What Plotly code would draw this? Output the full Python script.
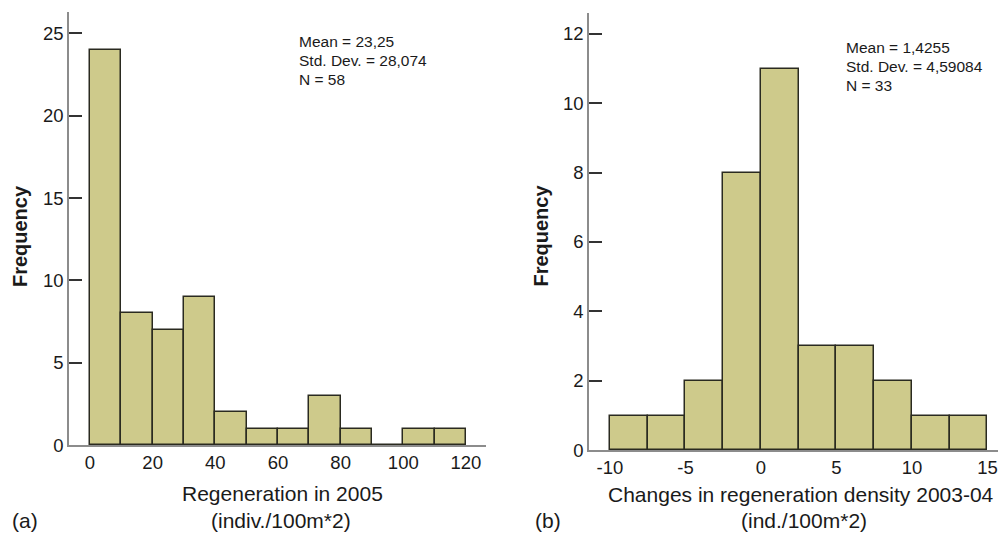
import plotly.graph_objects as go

W, H = 998, 534

# ---- data (a) ----
a_bin_left = [0, 10, 20, 30, 40, 50, 60, 70, 80, 90, 100, 110]
a_counts = [24, 8, 7, 9, 2, 1, 1, 3, 1, 0, 1, 1]
a_bin_width = 10
a_xticks = [0, 20, 40, 60, 80, 100, 120]
a_xticktext = ["0", "20", "40", "60", "80", "100", "120"]
a_yticks = [0, 5, 10, 15, 20, 25]
a_stats = ["Mean = 23,25", "Std. Dev. = 28,074", "N = 58"]

# ---- data (b) ----
b_bin_left = [-10, -7.5, -5, -2.5, 0, 2.5, 5, 7.5, 10, 12.5]
b_counts = [1, 1, 2, 8, 11, 3, 3, 2, 1, 1]
b_bin_width = 2.5
b_xticks = [-10, -5, 0, 5, 10, 15]
b_xticktext = ["-10", "-5", "0", "5", "10", "15"]
b_yticks = [0, 2, 4, 6, 8, 10, 12]
b_stats = ["Mean = 1,4255", "Std. Dev. = 4,59084", "N = 33"]

FONT = "Liberation Sans, Arial, Helvetica, sans-serif"
TXT = "#1a1a1a"
FILL = "#CECA8B"
EDGE = "#2a2a20"
AXIS = "#8c8c8c"

VF = 0.983  # vertical compensation


def px(x):
    return x / W


def py(y):
    return 1 - (y / VF) / H


fig = go.Figure()
fig.add_trace(go.Bar(
    x=[l + a_bin_width / 2 for l in a_bin_left], y=a_counts, width=a_bin_width,
    marker=dict(color=FILL, line=dict(color=EDGE, width=1.5)),
    xaxis="x", yaxis="y", showlegend=False, hoverinfo="x+y"))
fig.add_trace(go.Bar(
    x=[l + b_bin_width / 2 for l in b_bin_left], y=b_counts, width=b_bin_width,
    marker=dict(color=FILL, line=dict(color=EDGE, width=1.5)),
    xaxis="x2", yaxis="y2", showlegend=False, hoverinfo="x+y"))

tickfont = dict(family=FONT, size=18.5, color=TXT)

xcommon = dict(showline=True, linecolor=AXIS, linewidth=1.5, ticks="",
               showgrid=False, zeroline=False, tickfont=tickfont, fixedrange=True,
               layer="below traces")
ycommon = dict(showline=True, linecolor=AXIS, linewidth=1.5, ticks="inside",
               ticklen=13, tickwidth=1.5, tickcolor="#333333",
               showgrid=False, zeroline=False, tickfont=tickfont, fixedrange=True)

fig.update_layout(
    width=W, height=H,
    margin=dict(l=0, r=0, t=0, b=0),
    paper_bgcolor="white", plot_bgcolor="white",
    bargap=0,
    font=dict(family=FONT, color=TXT),
    xaxis=dict(domain=[px(69), px(486)], range=[-6.7, 126.4], tickvals=a_xticks,
               ticktext=a_xticktext, anchor="y", **xcommon),
    yaxis=dict(domain=[py(446), py(12)], range=[0, 26.3], tickvals=a_yticks,
               anchor="x", **ycommon),
    xaxis2=dict(domain=[px(589), 1.0], range=[-11.39, 15.7], tickvals=b_xticks,
                ticktext=b_xticktext, anchor="y2", **xcommon),
    yaxis2=dict(domain=[py(451), py(13)], range=[0, 12.6], tickvals=b_yticks,
                anchor="x2", **ycommon),
)

ann = []
# stats text
for i, t in enumerate(a_stats):
    ann.append(dict(text=t, x=px(297), y=py([41.5, 60.5, 79.5][i]), xref="paper", yref="paper",
                    xanchor="left", yanchor="middle", showarrow=False,
                    font=dict(family=FONT, size=15.5, color=TXT)))
for i, t in enumerate(b_stats):
    ann.append(dict(text=t, x=px(844), y=py([47.5, 66.5, 85.5][i]), xref="paper", yref="paper",
                    xanchor="left", yanchor="middle", showarrow=False,
                    font=dict(family=FONT, size=15.5, color=TXT)))

title_font = dict(family=FONT, size=21, color=TXT)
# axis titles and panel labels
ann += [
    dict(text="Regeneration in 2005", x=px(282), y=py(494.5), xref="paper", yref="paper",
         xanchor="center", yanchor="middle", showarrow=False, font=title_font),
    dict(text="(indiv./100m*2)", x=px(281), y=py(521), xref="paper", yref="paper",
         xanchor="center", yanchor="middle", showarrow=False, font=title_font),
    dict(text="(a)", x=px(25), y=py(521), xref="paper", yref="paper",
         xanchor="center", yanchor="middle", showarrow=False, font=title_font),
    dict(text="Changes in regeneration density 2003-04", x=px(801), y=py(495), xref="paper", yref="paper",
         xanchor="center", yanchor="middle", showarrow=False, font=title_font),
    dict(text="(ind./100m*2)", x=px(804), y=py(521.5), xref="paper", yref="paper",
         xanchor="center", yanchor="middle", showarrow=False, font=title_font),
    dict(text="(b)", x=px(547.5), y=py(521.5), xref="paper", yref="paper",
         xanchor="center", yanchor="middle", showarrow=False, font=title_font),
    dict(text="<b>Frequency</b>", x=px(20), y=py(236.5), xref="paper", yref="paper",
         xanchor="center", yanchor="middle", textangle=-90, showarrow=False,
         font=dict(family=FONT, size=20, color=TXT)),
    dict(text="<b>Frequency</b>", x=px(541.5), y=py(236.5), xref="paper", yref="paper",
         xanchor="center", yanchor="middle", textangle=-90, showarrow=False,
         font=dict(family=FONT, size=20, color=TXT)),
]
fig.update_layout(annotations=ann)

fig.write_html(
    "out.html",
    config=dict(displayModeBar=False),
    post_script="document.body.style.margin='0';document.body.style.overflow='hidden';",
)
